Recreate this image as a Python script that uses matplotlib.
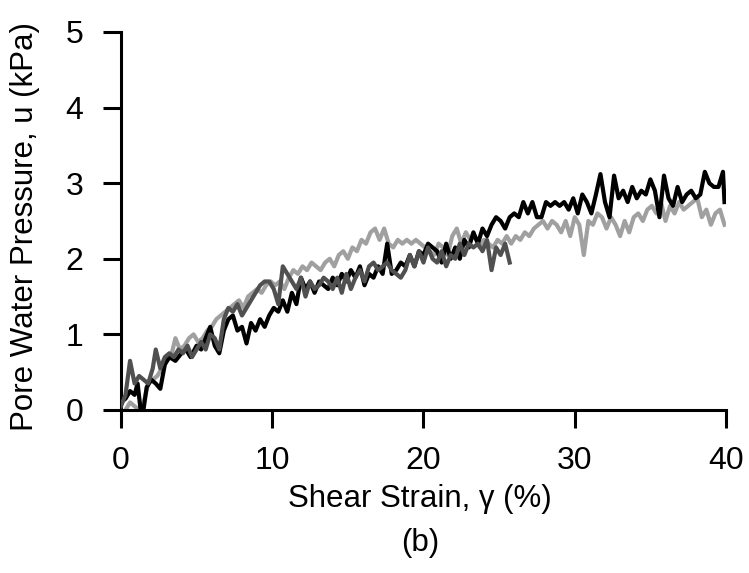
import matplotlib
matplotlib.use("Agg")
import matplotlib.pyplot as plt
import numpy as np

plt.rcParams['font.family'] = ['Liberation Sans', 'DejaVu Sans']

# Black series
black_x = [0.0,0.3,0.6,0.9,1.1,1.3,1.5,1.7,2.0,2.3,2.6,2.9,3.2,3.6,4.0,4.3,4.6,5.0,5.3,5.6,5.9,6.2,6.5,6.8,7.1,7.4,7.7,8.0,8.3,8.6,8.9,9.2,9.5,9.8,10.1,10.4,10.7,11.0,11.3,11.6,11.9,12.2,12.5,12.8,13.1,13.4,13.7,14.0,14.3,14.6,14.9,15.2,15.5,15.8,16.1,16.4,16.7,17.0,17.3,17.6,17.9,18.2,18.5,18.8,19.1,19.4,19.7,20.0,20.3,20.6,20.9,21.2,21.5,21.8,22.1,22.4,22.7,23.0,23.3,23.6,23.9,24.2,24.5,24.8,25.1,25.4,25.7,26.0,26.3,26.6,26.9,27.2,27.5,27.8,28.1,28.4,28.7,29.0,29.3,29.6,29.9,30.2,30.5,30.8,31.1,31.4,31.7,32.0,32.3,32.6,32.9,33.2,33.5,33.8,34.1,34.4,34.7,35.0,35.3,35.6,35.9,36.2,36.5,36.8,37.1,37.4,37.7,38.0,38.3,38.6,38.9,39.2,39.5,39.8,39.9]
black_y = [0.10,0.15,0.25,0.20,0.35,0.00,0.02,0.30,0.40,0.35,0.28,0.60,0.70,0.65,0.75,0.80,0.70,0.85,0.80,0.95,1.10,0.85,0.75,1.05,1.20,1.25,1.05,1.10,0.88,1.15,1.05,1.20,1.10,1.25,1.35,1.30,1.45,1.30,1.55,1.40,1.75,1.60,1.70,1.55,1.70,1.65,1.60,1.75,1.65,1.80,1.70,1.85,1.75,1.90,1.65,1.80,1.75,1.90,1.80,2.20,1.80,1.85,1.95,1.90,2.05,1.90,2.10,2.05,2.20,2.15,2.10,1.95,2.20,2.00,2.15,2.00,2.25,2.15,2.35,2.20,2.40,2.30,2.45,2.55,2.50,2.40,2.55,2.60,2.55,2.75,2.60,2.75,2.55,2.55,2.75,2.70,2.75,2.70,2.75,2.65,2.80,2.60,2.85,2.75,2.60,2.85,3.12,2.75,2.55,3.10,2.80,2.90,2.75,2.95,2.80,2.90,2.85,3.05,2.90,2.55,3.10,2.80,2.70,2.95,2.75,2.85,2.90,2.80,2.85,3.15,3.00,2.95,2.95,3.15,2.75]

# Light grey series
light_x = [0.3,0.6,0.9,1.2,1.5,1.8,2.1,2.4,2.7,3.0,3.3,3.6,3.9,4.2,4.5,4.8,5.1,5.4,5.7,6.0,6.3,6.6,6.9,7.2,7.5,7.8,8.1,8.4,8.7,9.0,9.3,9.6,9.9,10.2,10.5,10.8,11.1,11.4,11.7,12.0,12.3,12.6,12.9,13.2,13.5,13.8,14.1,14.4,14.7,15.0,15.3,15.6,15.9,16.2,16.5,16.8,17.1,17.4,17.7,18.0,18.3,18.6,18.9,19.2,19.5,19.8,20.1,20.4,20.7,21.0,21.3,21.6,21.9,22.2,22.5,22.8,23.1,23.4,23.7,24.0,24.3,24.6,24.9,25.2,25.5,25.8,26.1,26.4,26.7,27.0,27.3,27.6,27.9,28.2,28.5,28.8,29.1,29.4,29.7,30.0,30.3,30.6,30.9,31.2,31.5,31.8,32.1,32.4,32.7,33.0,33.3,33.6,33.9,34.2,34.5,34.8,35.1,35.4,35.7,36.0,36.3,36.6,36.9,37.2,37.5,37.8,38.1,38.4,38.7,39.0,39.3,39.6,39.9]
light_y = [0.00,0.10,0.05,0.00,0.10,0.35,0.40,0.45,0.55,0.65,0.70,0.95,0.80,0.85,0.95,1.00,0.90,0.95,1.05,1.10,1.20,1.25,1.30,1.35,1.40,1.45,1.35,1.50,1.55,1.60,1.55,1.65,1.70,1.65,1.70,1.60,1.75,1.85,1.80,1.90,1.85,1.95,1.90,1.85,1.95,2.00,1.90,2.05,2.10,2.00,2.15,2.10,2.25,2.20,2.35,2.40,2.25,2.40,2.20,2.15,2.25,2.20,2.25,2.20,2.25,2.20,2.15,2.10,2.05,2.20,2.15,2.05,2.30,2.40,2.20,2.35,2.25,2.30,2.15,2.25,2.20,2.15,2.25,2.20,2.30,2.20,2.30,2.25,2.35,2.30,2.40,2.45,2.50,2.40,2.50,2.45,2.35,2.50,2.30,2.55,2.45,2.05,2.50,2.45,2.60,2.55,2.40,2.55,2.45,2.30,2.50,2.35,2.55,2.60,2.50,2.65,2.70,2.60,2.75,2.50,2.70,2.60,2.75,2.65,2.70,2.75,2.80,2.55,2.65,2.45,2.60,2.65,2.45]

# Dark grey series
dark_x = [0.0,0.3,0.6,0.9,1.2,1.5,1.8,2.1,2.3,2.6,2.9,3.2,3.5,3.8,4.1,4.4,4.7,5.0,5.3,5.6,5.9,6.2,6.5,6.8,7.1,7.4,7.7,8.0,8.3,8.6,8.9,9.2,9.5,9.8,10.1,10.4,10.7,11.0,11.3,11.6,11.9,12.2,12.5,12.8,13.1,13.4,13.7,14.0,14.3,14.6,14.9,15.2,15.5,15.8,16.1,16.4,16.7,17.0,17.3,17.6,17.9,18.2,18.5,18.8,19.1,19.4,19.7,20.0,20.3,20.6,20.9,21.2,21.5,21.8,22.1,22.4,22.7,23.0,23.3,23.6,23.9,24.2,24.5,24.8,25.1,25.4,25.7]
dark_y = [0.05,0.20,0.65,0.35,0.45,0.40,0.35,0.55,0.80,0.55,0.70,0.75,0.70,0.80,0.75,0.85,0.70,0.80,0.90,0.80,1.00,0.95,0.80,1.20,1.35,1.30,1.40,1.25,1.35,1.45,1.55,1.65,1.70,1.70,1.60,1.40,1.90,1.80,1.70,1.60,1.75,1.50,1.70,1.60,1.65,1.75,1.70,1.60,1.75,1.55,1.80,1.60,1.75,1.85,1.70,1.90,1.95,1.85,1.90,1.95,1.85,1.80,1.75,1.85,2.05,1.90,2.10,1.95,2.15,2.00,1.95,2.10,1.90,2.05,2.00,2.20,2.05,2.20,2.15,2.20,2.10,2.25,1.85,2.15,2.05,2.20,1.95]

x_ticks = [0, 10, 20, 30, 40]
y_ticks = [0, 1, 2, 3, 4, 5]

fig = plt.figure(figsize=(7.49, 5.73), dpi=100)
ax = fig.add_axes([0.1615, 0.2845, 0.8078, 0.6597])

ax.plot(light_x, light_y, color='#a0a0a0', lw=3.0, zorder=2)
ax.plot(black_x, black_y, color='#000000', lw=3.0, zorder=3)
ax.plot(dark_x, dark_y, color='#505050', lw=3.0, zorder=4)

ax.set_xlim(0, 40)
ax.set_ylim(0, 5)
ax.set_xticks(x_ticks)
ax.set_yticks(y_ticks)
for s in ['top', 'right']:
    ax.spines[s].set_visible(False)
for s in ['left', 'bottom']:
    ax.spines[s].set_linewidth(2.2)
ax.tick_params(direction='out', length=13, width=2.2, labelsize=23)
ax.tick_params(axis='x', pad=13)
ax.tick_params(axis='y', pad=14)

fig.text(0.034, 0.605, 'Pore Water Pressure, u (kPa)', rotation=90,
         ha='center', va='center', fontsize=22.5)
fig.text(0.5607, 0.130, 'Shear Strain, γ (%)', ha='center', va='center', fontsize=22.5)
fig.text(0.5607, 0.052, '(b)', ha='center', va='center', fontsize=22.5)

fig.savefig('out.png', dpi=100)
